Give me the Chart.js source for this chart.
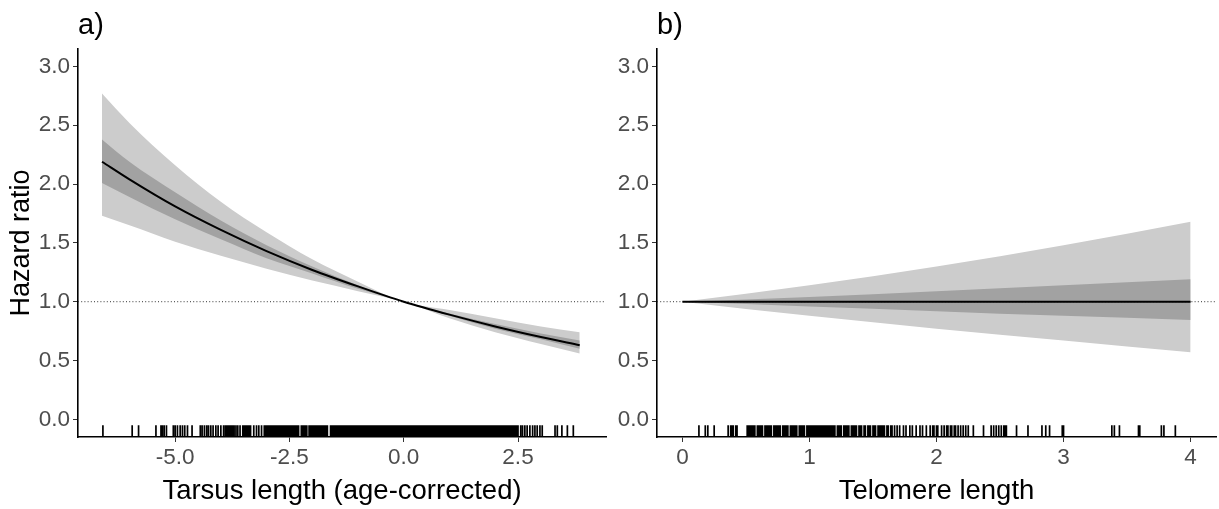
<!DOCTYPE html>
<html>
<head>
<meta charset="utf-8">
<title>Hazard ratio</title>
<script src="https://cdn.jsdelivr.net/npm/chart.js@4.4.1/dist/chart.umd.min.js"></script>
<style>
  html, body { margin: 0; padding: 0; background: #fff; }
  #wrap { position: relative; width: 1219px; height: 509px; }
  #chartA { position: absolute; left: 0; top: 0; }
  #chartB { position: absolute; left: 610px; top: 0; }
</style>
</head>
<body>
<div id="wrap">
  <canvas id="chartA" width="610" height="509"></canvas>
  <canvas id="chartB" width="609" height="509"></canvas>
</div>
<script>
'use strict';

// ---- panel a) tarsus length ----
var tarsusX = [-6.6, -6, -5, -4, -3, -2, -1, 0, 1, 2, 3, 3.85];
var tarsusHR = [2.19, 2.04, 1.81, 1.61, 1.43, 1.27, 1.13, 1.00, 0.89, 0.79, 0.70, 0.63];
var tarsusOuterHi = [2.77, 2.52, 2.16, 1.85, 1.59, 1.36, 1.17, 1.00, 0.93, 0.86, 0.79, 0.74];
var tarsusOuterLo = [1.73, 1.65, 1.51, 1.39, 1.28, 1.18, 1.09, 1.00, 0.86, 0.74, 0.64, 0.56];
var tarsusInnerHi = [2.38, 2.19, 1.93, 1.69, 1.48, 1.30, 1.14, 1.00, 0.90, 0.81, 0.73, 0.67];
var tarsusInnerLo = [2.01, 1.89, 1.70, 1.53, 1.37, 1.24, 1.11, 1.00, 0.88, 0.77, 0.68, 0.60];
var tarsusTicks = [-5, -2.5, 0, 2.5];
var tarsusRug = [
  -6.58, -5.94, -5.80, -5.42, -5.31, -5.28, -5.24, -5.19, -5.04, -5.00, -4.95, -4.89,
  -4.84, -4.79, -4.73, -4.63, -4.45, -4.41, -4.36, -4.31, -4.27, -4.22, -4.17, -4.11,
  -4.06, -4.00, -3.94, -3.90, -3.87, -3.85, -3.82, -3.79, -3.76, -3.73, -3.71, -3.67,
  -3.63, -3.58, -3.52, -3.49, -3.47, -3.44, -3.41, -3.38, -3.35, -3.28, -3.22, -3.17,
  -3.11, -3.05, -3.02, -3.00, -2.97, -2.95, -2.92, -2.90, -2.87, -2.85, -2.82, -2.80,
  -2.77, -2.75, -2.72, -2.70, -2.67, -2.65, -2.62, -2.60, -2.57, -2.55, -2.52, -2.50,
  -2.47, -2.45, -2.42, -2.40, -2.37, -2.35, -2.32, -2.30, -2.24, -2.22, -2.19, -2.17,
  -2.14, -2.12, -2.07, -2.05, -2.02, -2.00, -1.97, -1.95, -1.92, -1.90, -1.87, -1.85,
  -1.82, -1.80, -1.77, -1.75, -1.72, -1.70, -1.67, -1.60, -1.57, -1.55, -1.52, -1.50,
  -1.47, -1.45, -1.42, -1.40, -1.37, -1.35, -1.32, -1.30, -1.27, -1.25, -1.22, -1.20,
  -1.17, -1.15, -1.12, -1.10, -1.07, -1.05, -1.02, -1.00, -0.97, -0.95, -0.92, -0.90,
  -0.87, -0.85, -0.82, -0.80, -0.77, -0.75, -0.72, -0.70, -0.67, -0.65, -0.62, -0.60,
  -0.57, -0.55, -0.52, -0.50, -0.47, -0.45, -0.42, -0.40, -0.37, -0.35, -0.32, -0.30,
  -0.27, -0.25, -0.22, -0.20, -0.17, -0.15, -0.12, -0.10, -0.07, -0.05, -0.02, 0.00,
  0.02, 0.05, 0.07, 0.10, 0.12, 0.15, 0.17, 0.20, 0.22, 0.25, 0.27, 0.30,
  0.32, 0.35, 0.37, 0.40, 0.42, 0.45, 0.47, 0.50, 0.52, 0.55, 0.57, 0.60,
  0.62, 0.65, 0.67, 0.70, 0.72, 0.75, 0.77, 0.80, 0.82, 0.85, 0.87, 0.90,
  0.92, 0.95, 0.97, 1.00, 1.02, 1.05, 1.07, 1.10, 1.12, 1.15, 1.17, 1.20,
  1.22, 1.25, 1.27, 1.30, 1.32, 1.35, 1.37, 1.40, 1.42, 1.45, 1.47, 1.50,
  1.52, 1.55, 1.57, 1.60, 1.62, 1.65, 1.67, 1.70, 1.72, 1.75, 1.77, 1.80,
  1.82, 1.85, 1.87, 1.90, 1.92, 1.95, 1.97, 2.00, 2.02, 2.05, 2.07, 2.10,
  2.12, 2.15, 2.17, 2.20, 2.22, 2.25, 2.27, 2.30, 2.32, 2.35, 2.37, 2.40,
  2.42, 2.45, 2.47, 2.50, 2.56, 2.60, 2.65, 2.70, 2.76, 2.82, 2.87, 2.92,
  2.98, 3.03, 3.31, 3.36, 3.46, 3.58, 3.71
];

// ---- panel b) telomere length ----
var telX = [0, 1, 2, 3, 4];
var telHR = [1.00, 1.00, 1.00, 1.00, 1.00];
var telOuterHi = [1.00, 1.14, 1.30, 1.48, 1.68];
var telOuterLo = [1.00, 0.88, 0.77, 0.67, 0.57];
var telInnerHi = [1.00, 1.04, 1.09, 1.14, 1.19];
var telInnerLo = [1.00, 0.96, 0.92, 0.88, 0.845];
var telTicks = [0, 1, 2, 3, 4];
var telRug = [
  0.13, 0.18, 0.20, 0.25, 0.36, 0.38, 0.39, 0.40, 0.42, 0.43,
  0.51, 0.52, 0.53, 0.54, 0.55, 0.56, 0.57, 0.59, 0.60, 0.61, 0.62, 0.63,
  0.65, 0.66, 0.67, 0.68, 0.69, 0.70, 0.72, 0.73, 0.74, 0.75, 0.76, 0.77,
  0.79, 0.80, 0.81, 0.82, 0.83, 0.85, 0.86, 0.87, 0.88, 0.89, 0.90, 0.92,
  0.93, 0.94, 0.95, 0.96, 0.98, 0.99, 1.00, 1.01, 1.02, 1.03, 1.04, 1.05,
  1.06, 1.07, 1.08, 1.09, 1.10, 1.11, 1.12, 1.13, 1.14, 1.15, 1.16, 1.17,
  1.18, 1.19, 1.20, 1.22, 1.23, 1.24, 1.25, 1.27, 1.28, 1.29, 1.30, 1.31,
  1.33, 1.34, 1.35, 1.36, 1.37, 1.39, 1.40, 1.41, 1.43, 1.44, 1.46, 1.47,
  1.48, 1.50, 1.51, 1.52, 1.54, 1.55, 1.56, 1.57, 1.58, 1.59,
  1.61, 1.62, 1.64, 1.65, 1.67, 1.69, 1.71, 1.74, 1.76, 1.79, 1.81, 1.84,
  1.87, 1.89, 1.92, 1.95, 1.97, 1.98, 2.00, 2.01, 2.04, 2.06, 2.08, 2.09,
  2.11, 2.12, 2.14, 2.15, 2.17, 2.19, 2.21, 2.23, 2.25, 2.29, 2.37, 2.43,
  2.45, 2.47, 2.49, 2.51, 2.53, 2.54, 2.55, 2.63, 2.72, 2.83, 2.86, 2.89,
  2.99, 3.00, 3.38, 3.40, 3.44, 3.59, 3.60, 3.77, 3.79, 3.88
];

var hrTicks = [0, 0.5, 1, 1.5, 2, 2.5, 3];

var FONT = "'Liberation Sans', Arial, Helvetica, sans-serif";
Chart.defaults.font.family = FONT;

// rug marks: one path for all ticks, filled once so dense runs come out solid
var rugPlugin = {
    id: 'rug',
    afterDatasetsDraw: function (chart, args, opts) {
        var xs = chart.scales.x,
            area = chart.chartArea,
            c = chart.ctx,
            len = area.height * 0.03,
            w = opts.width || 1.3;
        c.save();
        c.beginPath();
        (opts.values || []).forEach(function (v) {
            var px = xs.getPixelForValue(v);
            c.rect(px - w / 2, area.bottom - len, w, len);
        });
        c.fillStyle = opts.color || '#000';
        c.fill();
        c.restore();
    }
};

function pts(xs, ys) {
    return xs.map(function (x, i) { return {x: x, y: ys[i]}; });
}

function band(xs, ys, colour, fill, order) {
    return {
        data: pts(xs, ys),
        borderWidth: 0,
        borderColor: 'rgba(0,0,0,0)',
        backgroundColor: colour,
        fill: fill,
        pointRadius: 0,
        cubicInterpolationMode: 'monotone',
        order: order
    };
}

function fixTicks(values) {
    return function (scale) {
        scale.ticks = values.map(function (v) { return {value: v}; });
    };
}

function makePanel(id, p) {
    var ctx = document.getElementById(id);
    return new Chart(ctx, {
        type: 'line',
        plugins: [rugPlugin],
        data: {
            datasets: [
                band(p.x, p.outerHi, '#cccccc', '+1', 6),
                band(p.x, p.outerLo, '#cccccc', false, 6),
                band(p.x, p.innerHi, '#a2a2a2', '+1', 5),
                band(p.x, p.innerLo, '#a2a2a2', false, 5),
                {
                    // reference line at HR = 1
                    data: [{x: p.xMin, y: 1}, {x: p.xMax, y: 1}],
                    borderColor: '#333',
                    borderWidth: 1,
                    borderDash: [1, 2.2],
                    pointRadius: 0,
                    order: 4
                },
                {
                    data: pts(p.x, p.hr),
                    borderColor: '#000',
                    borderWidth: 2,
                    pointRadius: 0,
                    cubicInterpolationMode: 'monotone',
                    order: 3
                }
            ]
        },
        options: {
            responsive: false,
            animation: false,
            events: [],
            layout: {padding: {left: 0, right: p.padRight, top: 0, bottom: 0}},
            plugins: {
                legend: {display: false},
                tooltip: {enabled: false},
                rug: {values: p.rug, width: 1.7, color: '#000'},
                title: {
                    display: true,
                    text: p.title,
                    align: 'start',
                    fullSize: false,
                    color: '#000',
                    font: {size: 29, weight: 'normal'},
                    padding: {top: 9, bottom: 5}
                }
            },
            scales: {
                x: {
                    type: 'linear',
                    min: p.xMin,
                    max: p.xMax,
                    afterBuildTicks: fixTicks(p.xTicks),
                    afterFit: function (s) { s.height = 72; },
                    ticks: {
                        color: '#4d4d4d',
                        font: {size: 22.5},
                        padding: 2,
                        maxRotation: 0,
                        callback: p.xFmt
                    },
                    grid: {drawOnChartArea: false, drawTicks: true, tickLength: 5, color: '#333'},
                    border: {display: true, color: '#000', width: 1.6},
                    title: {
                        display: true,
                        text: p.xTitle,
                        color: '#000',
                        font: {size: 27.5},
                        padding: {top: 0, bottom: 1}
                    }
                },
                y: {
                    type: 'linear',
                    min: -0.15,
                    max: 3.15,
                    afterBuildTicks: fixTicks(hrTicks),
                    afterFit: function (s) { s.width = p.yWidth; },
                    ticks: {
                        color: '#4d4d4d',
                        font: {size: 22.5},
                        padding: 3,
                        callback: function (v) { return Number(v).toFixed(1); }
                    },
                    grid: {drawOnChartArea: false, drawTicks: true, tickLength: 5, color: '#333'},
                    border: {display: true, color: '#000', width: 1.6},
                    title: {
                        display: !!p.yTitle,
                        text: p.yTitle || '',
                        color: '#000',
                        font: {size: 27},
                        padding: {top: 5, bottom: 0}
                    }
                }
            }
        }
    });
}

makePanel('chartA', {
    title: 'a)',
    x: tarsusX, hr: tarsusHR,
    outerHi: tarsusOuterHi, outerLo: tarsusOuterLo,
    innerHi: tarsusInnerHi, innerLo: tarsusInnerLo,
    rug: tarsusRug,
    xMin: -7.125, xMax: 4.425,
    xTicks: tarsusTicks,
    xFmt: function (v) { return Number(v).toFixed(1); },
    xTitle: 'Tarsus length (age-corrected)',
    yTitle: 'Hazard ratio',
    yWidth: 78,
    padRight: 4
});

makePanel('chartB', {
    title: 'b)',
    x: telX, hr: telHR,
    outerHi: telOuterHi, outerLo: telOuterLo,
    innerHi: telInnerHi, innerLo: telInnerLo,
    rug: telRug,
    xMin: -0.2, xMax: 4.2,
    xTicks: telTicks,
    xFmt: function (v) { return String(v); },
    xTitle: 'Telomere length',
    yTitle: null,
    yWidth: 47,
    padRight: 3
});
</script>
</body>
</html>
